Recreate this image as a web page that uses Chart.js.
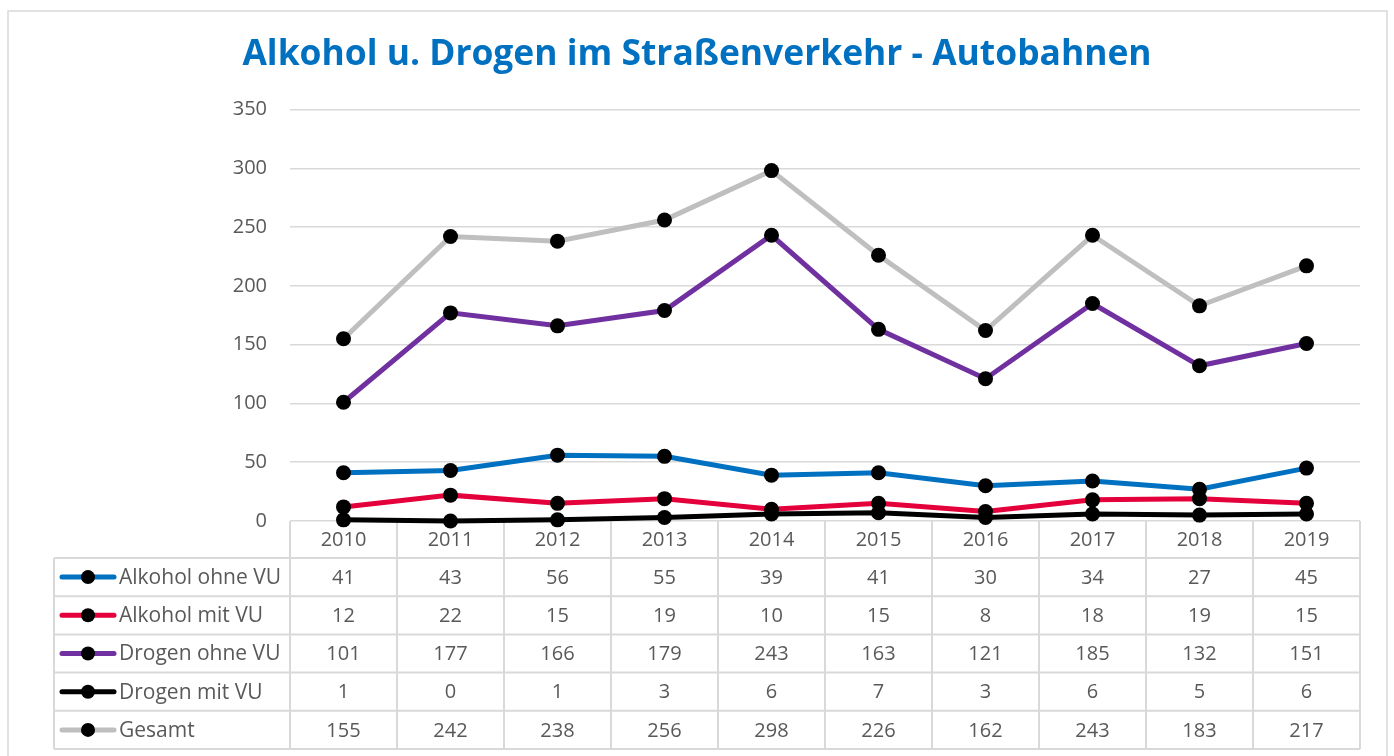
<!DOCTYPE html>
<html>
<head>
<meta charset="utf-8">
<script src="https://cdn.jsdelivr.net/npm/chart.js@4.4.0/dist/chart.umd.min.js"></script>
<style>
  html, body { margin: 0; padding: 0; background: #fff; }
  #wrap { width: 1394px; height: 756px; }
</style>
</head>
<body>
<div id="wrap"><canvas id="linechart" width="1394" height="756"></canvas></div>
<script>
const years = ['2010', '2011', '2012', '2013', '2014', '2015', '2016', '2017', '2018', '2019'];
const alkoholOhneVU = [41, 43, 56, 55, 39, 41, 30, 34, 27, 45];
const alkoholMitVU = [12, 22, 15, 19, 10, 15, 8, 18, 19, 15];
const drogenOhneVU = [101, 177, 166, 179, 243, 163, 121, 185, 132, 151];
const drogenMitVU = [1, 0, 1, 3, 6, 7, 3, 6, 5, 6];
const gesamt = [155, 242, 238, 256, 298, 226, 162, 243, 183, 217];
const seriesNames = ['Alkohol ohne VU', 'Alkohol mit VU', 'Drogen ohne VU', 'Drogen mit VU', 'Gesamt'];
const seriesColors = ['#0070c0', '#e4003b', '#7030a0', '#000000', '#bfbfbf'];

const textColor = '#595959';
const gridColor = '#d9d9d9';
Chart.defaults.font.family = "'Open Sans', sans-serif";

// light frame round the whole chart
const frame = {
    id: 'frame',
    beforeDraw(chart) {
        const ctx = chart.ctx;
        ctx.save();
        ctx.strokeStyle = gridColor;
        ctx.lineWidth = 1.5;
        ctx.strokeRect(8, 11, 1379, 760);
        ctx.restore();
    }
};

// data table under the plot, columns taken from the x scale
const dataTable = {
    id: 'dataTable',
    beforeDatasetsDraw(chart) {
        const ctx = chart.ctx;
        const area = chart.chartArea;
        const x = chart.scales.x;
        const sets = chart.data.datasets;
        const top = area.bottom;
        const headH = 37, rowH = 38.2;
        const colW = (area.right - area.left) / years.length;
        const left = 54;
        const bottom = top + headH + rowH * sets.length;

        const line = (x1, y1, x2, y2) => {
            ctx.beginPath();
            ctx.moveTo(x1, y1);
            ctx.lineTo(x2, y2);
            ctx.stroke();
        };

        ctx.save();
        ctx.strokeStyle = gridColor;
        ctx.lineWidth = 2;
        for (let i = 0; i <= years.length; i++) {
            const xx = area.left + i * colW;
            line(xx, top, xx, bottom);
        }
        line(left, top + headH, left, bottom);
        for (let r = 0; r <= sets.length; r++) {
            const yy = top + headH + r * rowH;
            line(left, yy, area.right, yy);
        }

        ctx.fillStyle = textColor;
        ctx.font = "20px 'Open Sans'";
        ctx.textAlign = 'center';
        ctx.textBaseline = 'middle';
        years.forEach((yr, i) => ctx.fillText(yr, x.getPixelForValue(i), top + headH / 2 + 1));

        sets.forEach((ds, r) => {
            const cy = top + headH + r * rowH + rowH / 2;
            ctx.strokeStyle = ds.borderColor;
            ctx.lineWidth = 5;
            ctx.lineCap = 'round';
            line(62, cy, 114, cy);
            ctx.fillStyle = '#000';
            ctx.beginPath();
            ctx.arc(88, cy, 7, 0, Math.PI * 2);
            ctx.fill();

            ctx.fillStyle = textColor;
            ctx.textAlign = 'left';
            ctx.font = "21px 'Open Sans'";
            ctx.fillText(ds.label, 119, cy + 1);
            ctx.font = "20px 'Open Sans'";
            ctx.textAlign = 'center';
            ds.data.forEach((v, i) => ctx.fillText(String(v), x.getPixelForValue(i), cy + 1));
        });
        ctx.restore();
    }
};

const allData = [alkoholOhneVU, alkoholMitVU, drogenOhneVU, drogenMitVU, gesamt];

const ctx = document.getElementById('linechart').getContext('2d');

const linechart = new Chart(ctx, {
    type: 'line',
    data: {
        labels: years,
        datasets: allData.map((d, i) => ({
            label: seriesNames[i],
            data: d,
            borderColor: seriesColors[i],
            backgroundColor: seriesColors[i],
            borderWidth: 5,
            pointRadius: 7.5,
            pointBackgroundColor: '#000',
            pointBorderWidth: 0,
            tension: 0,
            clip: false,
            order: allData.length - i
        }))
    },
    options: {
        responsive: false,
        maintainAspectRatio: false,
        animation: false,
        layout: {
            padding: { left: 34, right: 34, top: 0, bottom: 235 }
        },
        plugins: {
            legend: { display: false },
            tooltip: { enabled: false },
            title: {
                display: true,
                text: 'Alkohol u. Drogen im Straßenverkehr - Autobahnen',
                color: '#0070c0',
                font: { size: 35.4, weight: 'bold' },
                padding: { top: 34, bottom: 33 }
            }
        },
        scales: {
            x: {
                display: false,
                offset: true
            },
            y: {
                min: 0,
                max: 350,
                afterFit(scale) { scale.width = 256; },
                ticks: {
                    stepSize: 50,
                    color: textColor,
                    font: { size: 20 },
                    padding: 23
                },
                grid: {
                    color: gridColor,
                    lineWidth: 1.5,
                    drawTicks: false
                },
                border: { display: false }
            }
        }
    },
    plugins: [frame, dataTable]
});
</script>
</body>
</html>
